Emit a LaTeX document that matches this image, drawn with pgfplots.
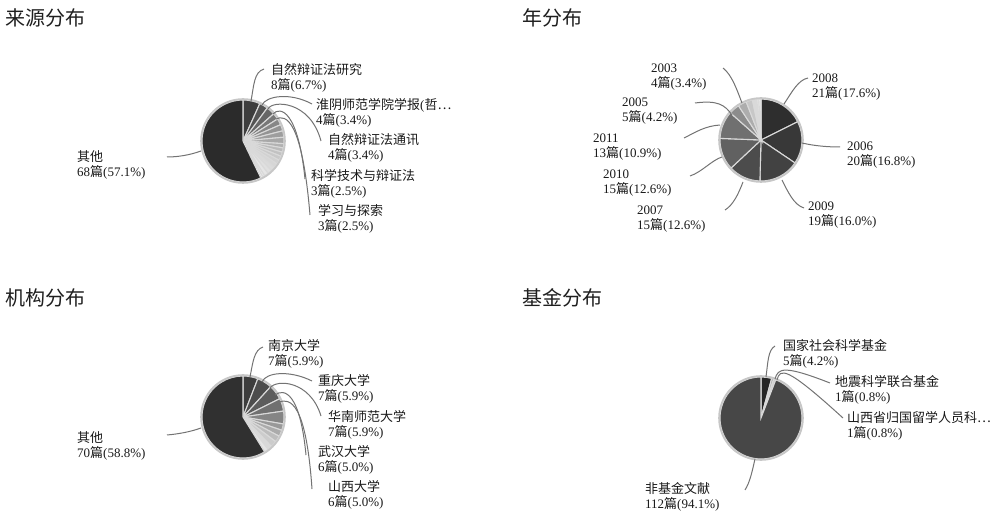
\documentclass[border=0pt]{standalone}
\usepackage{fontspec}
\setmainfont{Liberation Serif}
\newfontfamily\cjk{Noto Sans CJK SC}
\usepackage{pgfplots}
\usepackage{pgfplotstable}
\pgfplotsset{compat=1.18}

% v = count, g = grey level (percent black), clockwise from 12 o'clock
\pgfplotstableread{
v g
8 76
4 67
4 60
3 53
3 47
3 42
3 38
3 34
2 30
2 27
2 24
2 21
2 18
2 16
2 14
2 12
2 10
1 8
1 6
68 83
}\srcdata
\pgfplotstableread{
v g
21 82
20 78
19 74
15 70
15 62
13 56
5 45
4 32
3 22
2 15
1 10
1 6
}\yeardata
\pgfplotstableread{
v g
7 76
7 70
7 64
6 56
6 48
3 40
3 33
3 26
3 20
2 15
2 10
70 81
}\orgdata
\pgfplotstableread{
v g
5 85
1 35
1 20
112 72
}\funddata

\newcommand\p{{\cjk 篇}}
\newcommand\drawpie[5]{% table, last row, cx, cy, r
  \def\cumv{0}%
  \pgfplotsforeachungrouped \i in {0,...,#2}{%
    \pgfplotstablegetelem{\i}{v}\of#1\let\val\pgfplotsretval
    \pgfplotstablegetelem{\i}{g}\of#1\let\gval\pgfplotsretval
    \pgfmathsetmacro\aS{90-\cumv/119*360}%
    \pgfmathsetmacro\cumv{\cumv+\val}%
    \pgfmathsetmacro\aE{90-\cumv/119*360}%
    \edef\doit{\noexpand\fill[black!\gval,draw=black!15,line width=1.1pt] (axis cs:#3,#4) -- ++(\aS:#5pt) arc[start angle=\aS,end angle=\aE,radius=#5pt] -- cycle;}%
    \doit
  }%
  \draw[black!22,line width=1.8pt] (axis cs:#3,#4) circle[radius=#5pt+0.9pt];
}
\newcommand\lab[4]{\node[anchor=west,align=left,inner sep=0pt,text=black!90,
  font=\fontsize{13}{15.5}\selectfont] at (axis cs:#1,#2) {#3\\#4};}
\newcommand\ttl[3]{\node[anchor=west,inner sep=0pt,text=black!88,
  font=\cjk\fontsize{20}{24}\selectfont] at (axis cs:#1,#2) {#3};}

\begin{document}
\begin{tikzpicture}
\begin{axis}[at={(0,0)},anchor=south west,
  width=997pt,height=513pt,scale only axis,
  xmin=0,xmax=997,ymin=0,ymax=513,y dir=reverse,
  hide axis,clip=false]
\addplot[draw=none] coordinates {(0,0)};

\ttl{5}{18}{来源分布}
\ttl{522}{18}{年分布}
\ttl{5}{298}{机构分布}
\ttl{522}{298}{基金分布}

\tikzset{leader/.style={black!55,line width=1pt}}

% source
\drawpie{\srcdata}{19}{243}{141}{41}
\draw[leader] (axis cs:251,101) .. controls (axis cs:254,85) and (axis cs:254,72) .. (axis cs:264,69);
\draw[leader] (axis cs:262,105) .. controls (axis cs:266,96) and (axis cs:290,92) .. (axis cs:312,104);
\draw[leader] (axis cs:268,109) .. controls (axis cs:272,100) and (axis cs:310,100) .. (axis cs:321,141);
\draw[leader] (axis cs:273,114) .. controls (axis cs:280,106) and (axis cs:298,110) .. (axis cs:305,179);
\draw[leader] (axis cs:276,119) .. controls (axis cs:286,114) and (axis cs:302,120) .. (axis cs:310,215);
\draw[leader] (axis cs:201,151) .. controls (axis cs:190,155) and (axis cs:178,157) .. (axis cs:167,157);
\lab{271}{78}{{\cjk 自然辩证法研究}}{8\p(6.7\%)}
\lab{316}{113}{{\cjk 淮阴师范学院学报}({\cjk 哲…}}{4\p(3.4\%)}
\lab{328}{148}{{\cjk 自然辩证法通讯}}{4\p(3.4\%)}
\lab{311}{184}{{\cjk 科学技术与辩证法}}{3\p(2.5\%)}
\lab{318}{219}{{\cjk 学习与探索}}{3\p(2.5\%)}
\lab{77}{165}{{\cjk 其他}}{68\p(57.1\%)}

% year
\drawpie{\yeardata}{11}{761}{140}{41}
\draw[leader] (axis cs:784,104) .. controls (axis cs:792,92) and (axis cs:798,80) .. (axis cs:808,78);
\draw[leader] (axis cs:802,143) .. controls (axis cs:815,146) and (axis cs:828,147) .. (axis cs:840,147);
\draw[leader] (axis cs:782,180) .. controls (axis cs:788,192) and (axis cs:794,205) .. (axis cs:804,208);
\draw[leader] (axis cs:743,182) .. controls (axis cs:738,195) and (axis cs:733,205) .. (axis cs:725,210);
\draw[leader] (axis cs:722,157) .. controls (axis cs:712,160) and (axis cs:702,172) .. (axis cs:690,176);
\draw[leader] (axis cs:720,125) .. controls (axis cs:705,126) and (axis cs:696,132) .. (axis cs:684,138);
\draw[leader] (axis cs:732,115) .. controls (axis cs:725,105) and (axis cs:718,100) .. (axis cs:695,103);
\draw[leader] (axis cs:742,103) .. controls (axis cs:737,90) and (axis cs:732,75) .. (axis cs:723,68);
\lab{812}{87}{2008}{21\p(17.6\%)}
\lab{847}{155}{2006}{20\p(16.8\%)}
\lab{808}{215}{2009}{19\p(16.0\%)}
\lab{637}{219}{2007}{15\p(12.6\%)}
\lab{603}{183}{2010}{15\p(12.6\%)}
\lab{593}{147}{2011}{13\p(10.9\%)}
\lab{622}{111}{2005}{5\p(4.2\%)}
\lab{651}{77}{2003}{4\p(3.4\%)}

% institution
\drawpie{\orgdata}{11}{243}{417}{41}
\draw[leader] (axis cs:250,377) .. controls (axis cs:253,362) and (axis cs:254,350) .. (axis cs:263,347);
\draw[leader] (axis cs:262,382) .. controls (axis cs:266,372) and (axis cs:290,370) .. (axis cs:312,381);
\draw[leader] (axis cs:270,388) .. controls (axis cs:276,379) and (axis cs:310,380) .. (axis cs:321,416);
\draw[leader] (axis cs:275,395) .. controls (axis cs:284,388) and (axis cs:300,392) .. (axis cs:306,455);
\draw[leader] (axis cs:279,402) .. controls (axis cs:290,398) and (axis cs:306,402) .. (axis cs:312,489);
\draw[leader] (axis cs:201,428) .. controls (axis cs:190,432) and (axis cs:178,434) .. (axis cs:167,435);
\lab{268}{354}{{\cjk 南京大学}}{7\p(5.9\%)}
\lab{318}{389}{{\cjk 重庆大学}}{7\p(5.9\%)}
\lab{328}{425}{{\cjk 华南师范大学}}{7\p(5.9\%)}
\lab{318}{460}{{\cjk 武汉大学}}{6\p(5.0\%)}
\lab{328}{495}{{\cjk 山西大学}}{6\p(5.0\%)}
\lab{77}{446}{{\cjk 其他}}{70\p(58.8\%)}

% fund
\drawpie{\funddata}{3}{761}{418}{41}
\draw[leader] (axis cs:766,377) .. controls (axis cs:768,362) and (axis cs:768,350) .. (axis cs:775,346);
\draw[leader] (axis cs:775,379) .. controls (axis cs:778,368) and (axis cs:784,365) .. (axis cs:830,383);
\draw[leader] (axis cs:777,380) .. controls (axis cs:780,368) and (axis cs:786,366) .. (axis cs:843,418);
\draw[leader] (axis cs:755,459) .. controls (axis cs:752,472) and (axis cs:750,482) .. (axis cs:745,490);
\lab{783}{354}{{\cjk 国家社会科学基金}}{5\p(4.2\%)}
\lab{835}{390}{{\cjk 地震科学联合基金}}{1\p(0.8\%)}
\lab{847}{426}{{\cjk 山西省归国留学人员科…}}{1\p(0.8\%)}
\lab{645}{497}{{\cjk 非基金文献}}{112\p(94.1\%)}
\end{axis}
\pgfresetboundingbox
\useasboundingbox (0,0) rectangle (997pt,513pt);
\end{tikzpicture}
\end{document}
